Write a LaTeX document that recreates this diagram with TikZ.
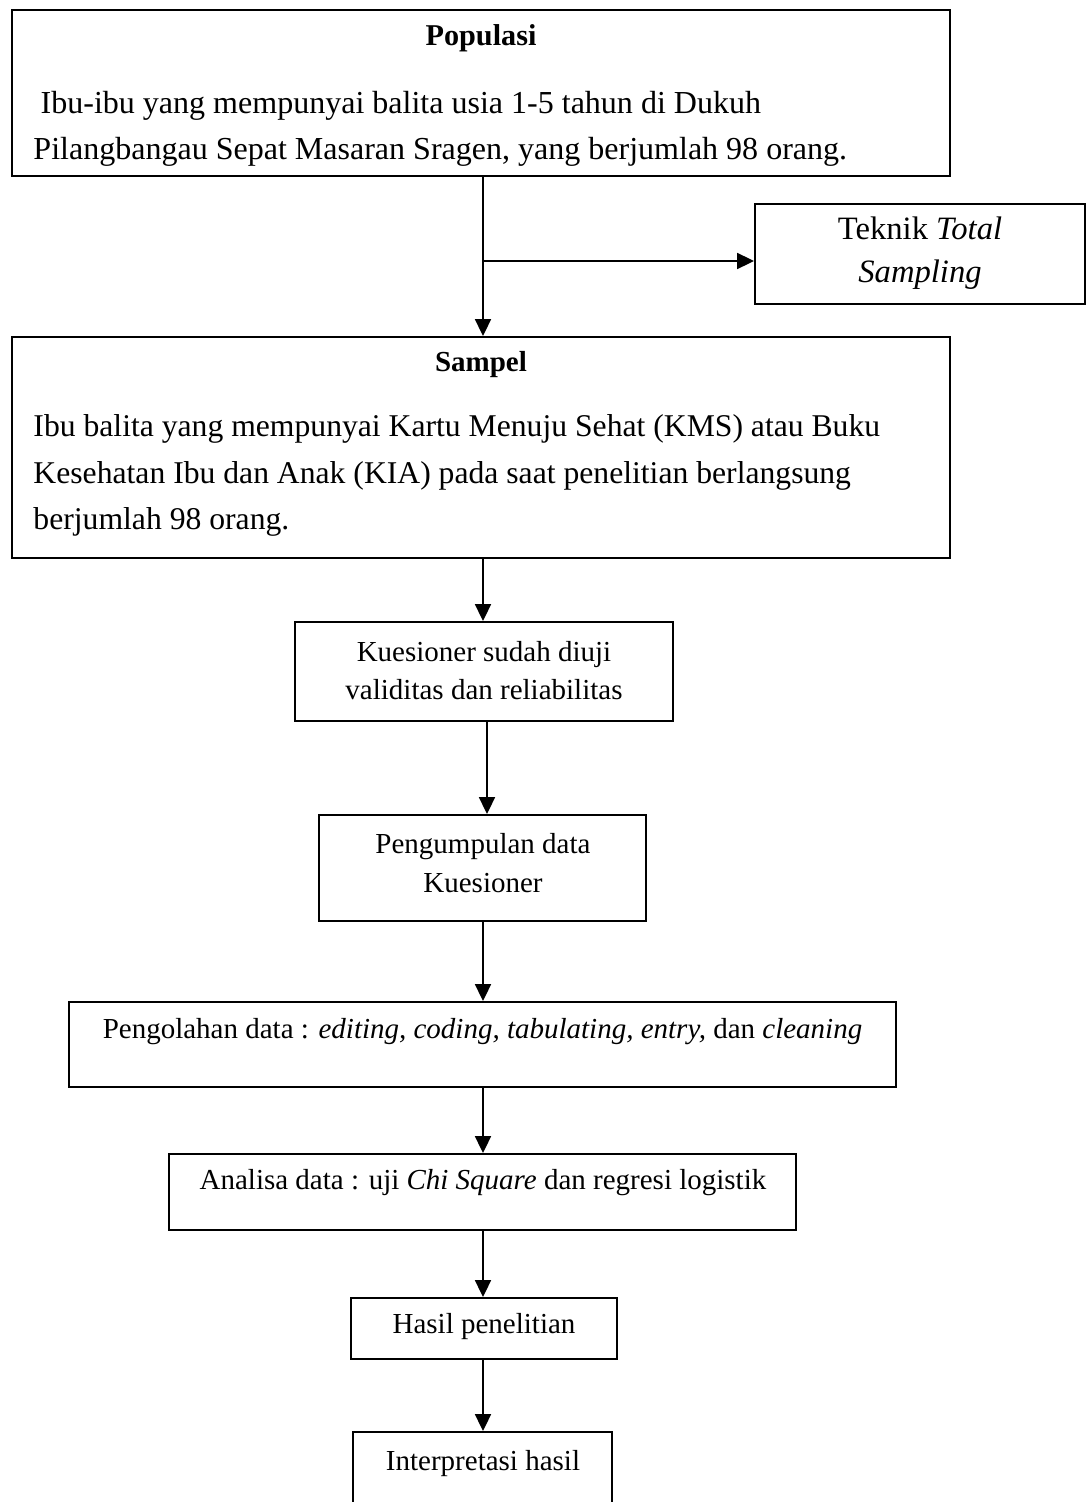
\documentclass[tikz,border=0pt]{standalone}
\usepackage{fontspec}
\setmainfont{Liberation Serif}
\usetikzlibrary{arrows.meta}

% a drawn box given by its name and its corners (x1,y1) and (x2,y2)
\newcommand\flowbox[5]{%
  \node[box, minimum width={(#4-#2)*0.4138pt}, minimum height={(#5-#3)*0.4138pt}]
    (#1) at ({(#2+#4)/2},{(#3+#5)/2}) {};}

\begin{document}
\begin{tikzpicture}[x=0.4138pt, y=-0.4138pt,
  box/.style={draw, rectangle, line width=0.8pt, inner sep=0pt},
  txt/.style={inner sep=0pt, font=\fontsize{12}{15}\selectfont},
  title/.style={inner sep=0pt, font=\fontsize{12}{15}\selectfont\bfseries},
  arr/.style={line width=0.8pt, -{Triangle[width=6.6pt,length=7pt]}}]
\useasboundingbox (0,0) rectangle (1087,1502);
\clip (0,0) rectangle (1087,1502);
\fill[white] (0,0) rectangle (1087,1502);

% boxes
\flowbox{pop}{12}{10}{950}{176}
\flowbox{tek}{755}{204}{1085}{304}
\flowbox{samp}{12}{337}{950}{558}
\flowbox{kues}{295}{622}{673}{721}
\flowbox{pgm}{319}{815}{646}{921}
\flowbox{pgl}{69}{1002}{896}{1087}
\flowbox{ana}{169}{1154}{796}{1230}
\flowbox{has}{351}{1298}{617}{1359}
\flowbox{int}{353}{1432}{612}{1515}

% texts
\node[title, font=\fontsize{12.5}{15}\selectfont\bfseries] (popT) at (481,38) {Populasi};
\node[txt, anchor=west, align=left, font=\fontsize{13.25}{19}\selectfont] (popB) at (33,129)
  {\hspace*{3pt}Ibu-ibu yang mempunyai balita usia 1-5 tahun di Dukuh\\
   Pilangbangau Sepat Masaran Sragen, yang berjumlah 98 orang.};
\node[txt, align=center, font=\fontsize{13.5}{17.8}\selectfont] (tekT) at (920,253.5)
  {Teknik \textit{Total}\\\textit{Sampling}};
\node[title] (sampT) at (481,365) {Sampel};
\node[txt, anchor=west, align=left, font=\fontsize{13.1}{19.2}\selectfont] (sampB) at (33,475.5)
  {Ibu balita yang mempunyai Kartu Menuju Sehat (KMS) atau Buku\\
   Kesehatan Ibu dan Anak (KIA) pada saat penelitian berlangsung\\
   berjumlah 98 orang.};
\node[txt, align=center, font=\fontsize{12}{15.7}\selectfont] (kuesT) at (484,671)
  {Kuesioner sudah diuji\\validitas dan reliabilitas};
\node[txt, align=center, font=\fontsize{12}{16.1}\selectfont] (pgmT) at (483,863.5)
  {Pengumpulan data\\Kuesioner};
\node[txt] (pglT) at (482.5,1032)
  {Pengolahan data : \textit{editing, coding, tabulating, entry,} dan \textit{cleaning}};
\node[txt] (anaT) at (483,1183)
  {Analisa data : uji \textit{Chi Square} dan regresi logistik};
\node[txt] (hasT) at (484,1327) {Hasil penelitian};
\node[txt] (intT) at (483,1464) {Interpretasi hasil};

% connectors
\coordinate (ax) at (483,0);
\coordinate (bx) at (487,0);
\coordinate (br) at (483,261);
\draw[arr] (pop.south -| ax) -- (samp.north -| ax);
\draw[arr] (br) -- (tek.west |- br);
\draw[arr] (samp.south -| ax) -- (kues.north -| ax);
\draw[arr] (kues.south -| bx) -- (pgm.north -| bx);
\draw[arr] (pgm.south -| ax) -- (pgl.north -| ax);
\draw[arr] (pgl.south -| ax) -- (ana.north -| ax);
\draw[arr] (ana.south -| ax) -- (has.north -| ax);
\draw[arr] (has.south -| ax) -- (int.north -| ax);
\end{tikzpicture}
\end{document}
